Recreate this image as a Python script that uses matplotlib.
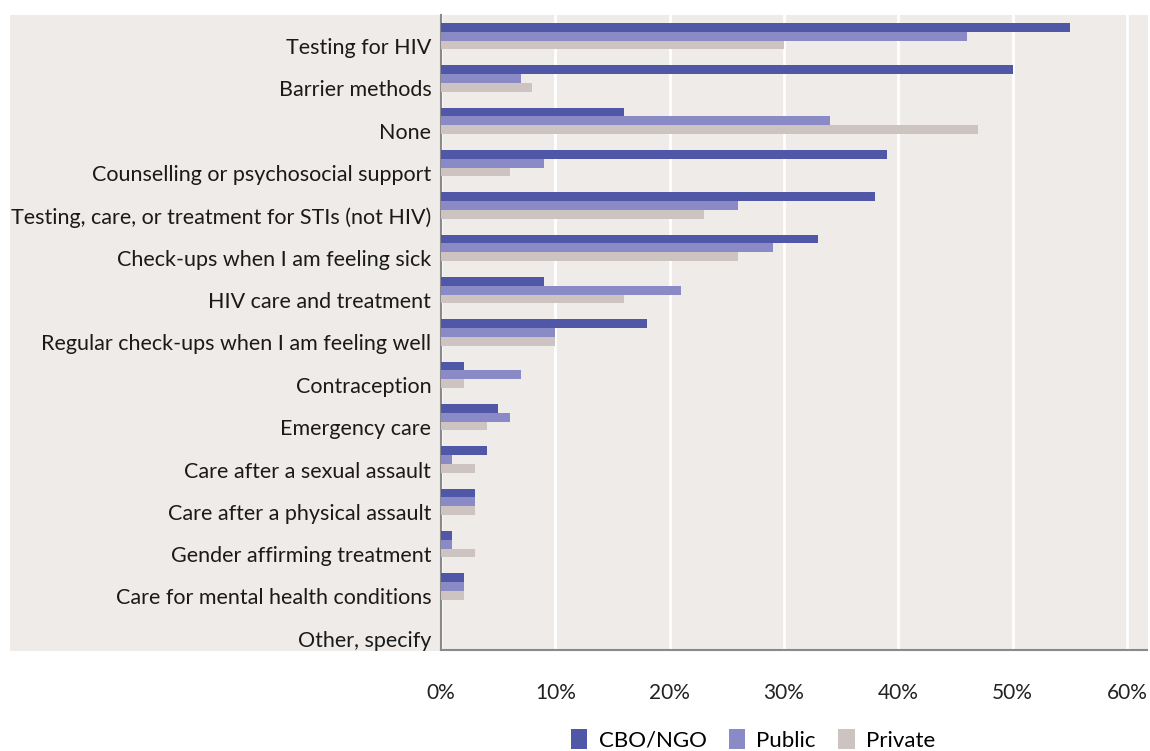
import numpy as np
import matplotlib
matplotlib.use('Agg')
import matplotlib.pyplot as plt
from matplotlib.patches import Rectangle, Patch
import matplotlib.transforms as mtransforms

# DADOS DO GRAFICO
CATEGORIAS = ['Testing for HIV', 'Barrier methods', 'None',
              'Counselling or psychosocial support',
              'Testing, care, or treatment for STIs (not HIV)',
              'Check-ups when I am feeling sick', 'HIV care and treatment',
              'Regular check-ups when I am feeling well', 'Contraception',
              'Emergency care', 'Care after a sexual assault',
              'Care after a physical assault', 'Gender affirming treatment',
              'Care for mental health conditions', 'Other, specify']
CBO_NGO = [55, 50, 16, 39, 38, 33, 9, 18, 2, 5, 4, 3, 1, 2, 0]
PUBLIC = [46, 7, 34, 9, 26, 29, 21, 10, 7, 6, 1, 3, 1, 2, 0]
PRIVATE = [30, 8, 47, 6, 23, 26, 16, 10, 2, 4, 3, 3, 3, 2, 0]
SERIES = ['CBO/NGO', 'Public', 'Private']
TICKS = [0, 10, 20, 30, 40, 50, 60]

CORES = ['#4F57A6', '#8A8BC6', '#CDC4C2']
FUNDO = '#EEEBE8'

plt.rcParams['font.family'] = ['Lato', 'DejaVu Sans']

W, H = 1150, 751
fig = plt.figure(figsize=(W / 100, H / 100), dpi=100)

# FUNDO CINZA ATRAS DOS ROTULOS E DA AREA DO GRAFICO
fig.patches.append(Rectangle((10 / W, 1 - 651 / H), (1148 - 10) / W, (651 - 15) / H,
                             transform=fig.transFigure, facecolor=FUNDO,
                             edgecolor='none', zorder=-5))

ax = fig.add_axes([441 / W, 1 - 650 / H, (1147 - 441) / W, (650 - 15) / H])
ax.set_facecolor('none')
ax.set_zorder(5)

y = np.arange(len(CATEGORIAS))
h = 0.205
for i, (vals, cor, nome) in enumerate(zip([CBO_NGO, PUBLIC, PRIVATE], CORES, SERIES)):
    ax.barh(y + (i - 1) * h, vals, height=h, color=cor, label=nome, zorder=3)

ax.set_xlim(0, 61.75)
ax.set_ylim(len(CATEGORIAS) - 0.5, -0.5)
ax.set_xticks(TICKS)
ax.set_xticklabels([f'{t}%' for t in TICKS], fontsize=15, color='#222222')
ax.tick_params(axis='x', length=0, pad=24)
ax.set_yticks(y)
ax.set_yticklabels(CATEGORIAS, fontsize=15.5, color='#1a1a1a')
ax.tick_params(axis='y', length=0, pad=7)
# ROTULOS UM POUCO ABAIXO DO CENTRO DO GRUPO
off = mtransforms.ScaledTranslation(0, -10 / 100, fig.dpi_scale_trans)
for lbl in ax.get_yticklabels():
    lbl.set_transform(lbl.get_transform() + off)

ax.grid(axis='x', color='white', linewidth=2, zorder=1)
for s in ['top', 'right']:
    ax.spines[s].set_visible(False)
ax.spines['left'].set_color('#8a8a8a')
ax.spines['left'].set_linewidth(1.5)
ax.spines['bottom'].set_color('#8a8a8a')
ax.spines['bottom'].set_linewidth(1.5)

handles = [Patch(facecolor=c, label=n) for c, n in zip(CORES, SERIES)]
fig.legend(handles=handles, loc='center', bbox_to_anchor=(753 / W, 1 - 740 / H),
           ncol=3, frameon=False, fontsize=16, handlelength=0.75, handleheight=1.0,
           handletextpad=0.5, columnspacing=1.0)

fig.savefig('out.png', dpi=100)
